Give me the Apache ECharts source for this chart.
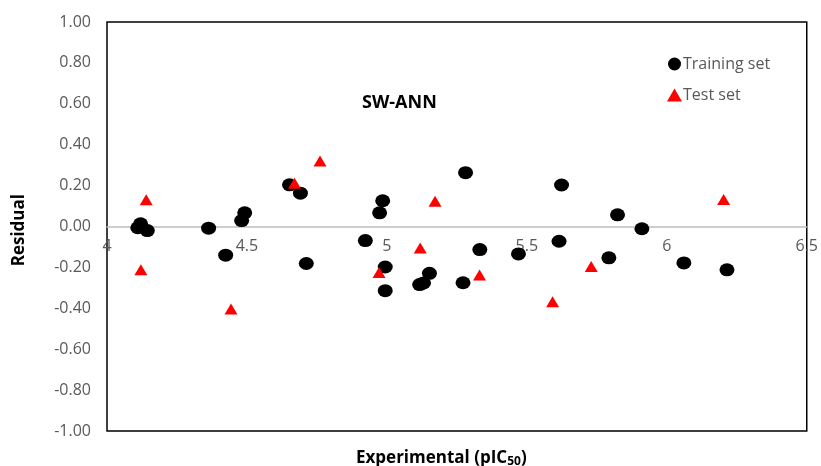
<!DOCTYPE html>
<html>
<head>
<meta charset="utf-8">
<script src="https://cdn.jsdelivr.net/npm/echarts@6/dist/echarts.min.js"></script>
<style>
  html, body { margin: 0; padding: 0; background: #fff; }
  #box { width: 821px; height: 466px; }
</style>
</head>
<body>
<div id="box"></div>
<script>
// Training set (experimental pIC50, residual)
var trainX = [4.110, 4.120, 4.144, 4.363, 4.424, 4.481, 4.492, 4.652, 4.691, 4.712,
              4.923, 4.974, 4.985, 4.994, 4.994, 5.117, 5.131, 5.152, 5.272, 5.281,
              5.332, 5.470, 5.615, 5.624, 5.793, 5.824, 5.911, 6.061, 6.215];
var trainY = [-0.006, 0.013, -0.020, -0.008, -0.140, 0.029, 0.067, 0.204, 0.163, -0.181,
              -0.069, 0.067, 0.126, -0.198, -0.314, -0.284, -0.276, -0.229, -0.275, 0.263,
              -0.113, -0.134, -0.072, 0.203, -0.153, 0.057, -0.011, -0.178, -0.212];
// Test set
var testX = [4.121, 4.140, 4.443, 4.670, 4.761, 4.972, 5.119, 5.172, 5.331, 5.592, 5.730, 6.203];
var testY = [-0.212, 0.131, -0.404, 0.212, 0.320, -0.225, -0.105, 0.124, -0.237, -0.368, -0.196, 0.132];

function pairs(xs, ys) {
  return xs.map(function (x, i) { return [x, ys[i]]; });
}

var myChart = echarts.init(document.getElementById('box'));
var font = '"Open Sans", Lato, sans-serif';

var option = {
  animation: false,
  textStyle: { fontFamily: font },
  title: [
    {
      text: 'SW-ANN',
      left: 357, top: 89,
      textStyle: { fontSize: 18, fontWeight: 'bold', color: '#000', fontFamily: font }
    },
    {
      text: 'Experimental (pIC{s|50})',
      left: 351, top: 443,
      textStyle: {
        fontSize: 17, fontWeight: 'bold', color: '#000', fontFamily: font,
        rich: { s: { fontSize: 12, fontWeight: 'bold', color: '#000', fontFamily: font, padding: [8, 0, 0, 0] } }
      }
    }
  ],
  graphic: [
    {
      type: 'text',
      left: 11, top: 194,
      rotation: Math.PI / 2,
      style: { text: 'Residual', font: 'bold 17px ' + font, fill: '#000' }
    }
  ],
  legend: {
    orient: 'vertical',
    left: 662, top: 51,
    itemGap: 15,
    itemWidth: 15, itemHeight: 13,
    textStyle: { color: '#595959', fontSize: 16, fontFamily: font, padding: [0, 0, 0, -4] },
    data: [
      { name: 'Training set', icon: 'circle' },
      { name: 'Test set', icon: 'triangle' }
    ]
  },
  grid: {
    left: 107, right: 9, top: 22, bottom: 35,
    show: true, borderColor: '#000', borderWidth: 1.5
  },
  xAxis: {
    type: 'value',
    position: 'bottom',
    offset: -204.5,
    min: 4, max: 6.5, interval: 0.5,
    axisLine: { onZero: false, lineStyle: { color: '#bfbfbf', width: 1.5 } },
    axisTick: { show: false },
    splitLine: { show: false },
    axisLabel: { color: '#595959', fontSize: 16, margin: 12, fontFamily: font }
  },
  yAxis: {
    type: 'value',
    min: -1, max: 1, interval: 0.2,
    axisLine: { show: false },
    axisTick: { show: false },
    splitLine: { show: false },
    axisLabel: {
      color: '#595959', fontSize: 16, margin: 16, fontFamily: font,
      formatter: function (v) { return v.toFixed(2); }
    }
  },
  series: [
    {
      name: 'Training set',
      type: 'scatter',
      symbol: 'circle',
      symbolSize: [15, 13],
      itemStyle: { color: '#000', opacity: 1 },
      data: pairs(trainX, trainY)
    },
    {
      name: 'Test set',
      type: 'scatter',
      symbol: 'triangle',
      symbolSize: [13, 11],
      itemStyle: { color: '#ff0000', opacity: 1 },
      data: pairs(testX, testY)
    }
  ]
};

myChart.setOption(option);
</script>
</body>
</html>
